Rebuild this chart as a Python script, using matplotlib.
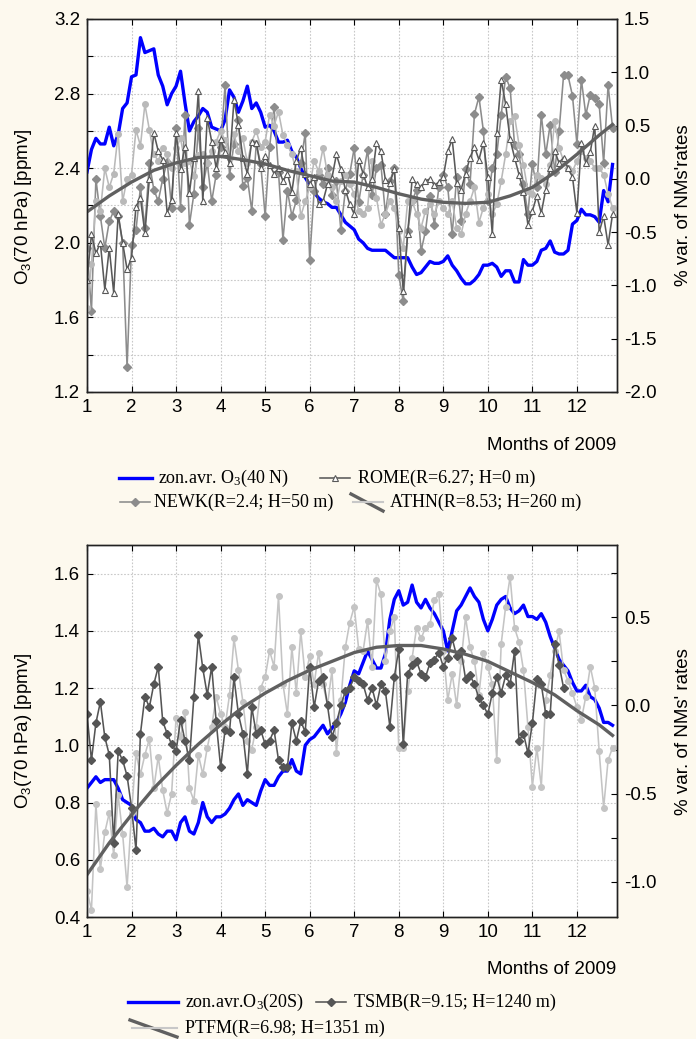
import numpy as np
import matplotlib
matplotlib.use('Agg')
import matplotlib.pyplot as plt
from matplotlib.lines import Line2D
from matplotlib.ticker import MultipleLocator


# ---- data (x = month of 2009, one value every 0.1 month) ----
months = np.round(np.arange(1.0, 12.85, 0.1), 1)          # 1.0 ... 12.8
fit_months = [1.0, 1.5, 2.0, 2.5, 3.0, 3.5, 4.0, 4.5, 5.0, 5.5, 6.0, 6.5,
              7.0, 7.5, 8.0, 8.5, 9.0, 9.5, 10.0, 10.5, 11.0, 11.5, 12.0, 12.5, 12.8]

# top panel: zonal average O3 at 40N (ppmv, left axis)
o3_40n = [2.38, 2.50, 2.56, 2.53, 2.53, 2.62, 2.52, 2.58, 2.72, 2.75,
          2.89, 2.90, 3.10, 3.02, 3.03, 3.04, 2.90, 2.84, 2.74, 2.80,
          2.84, 2.92, 2.75, 2.60, 2.65, 2.68, 2.72, 2.70, 2.62, 2.61,
          2.60, 2.66, 2.82, 2.78, 2.70, 2.76, 2.84, 2.72, 2.75, 2.70,
          2.62, 2.63, 2.60, 2.54, 2.54, 2.55, 2.49, 2.46, 2.40, 2.35,
          2.31, 2.27, 2.24, 2.22, 2.21, 2.19, 2.19, 2.15, 2.11, 2.09,
          2.07, 2.02, 2.00, 1.97, 1.96, 1.96, 1.96, 1.96, 1.94, 1.92,
          1.92, 1.92, 1.92, 1.87, 1.83, 1.84, 1.87, 1.90, 1.89, 1.89,
          1.90, 1.93, 1.88, 1.85, 1.81, 1.78, 1.78, 1.80, 1.83, 1.88,
          1.88, 1.89, 1.87, 1.82, 1.85, 1.85, 1.79, 1.79, 1.91, 1.88,
          1.88, 1.90, 1.96, 1.97, 2.01, 1.95, 1.94, 1.94, 1.96, 2.10,
          2.12, 2.18, 2.15, 2.15, 2.14, 2.11, 2.28, 2.22, 2.42]

# top panel: neutron monitors, % variation (right axis)
rome = [-0.95, -0.52, -0.70, -0.60, -1.04, -0.65, -1.07, -0.33, -0.60, -0.85,
        -0.74, -0.26, -0.18, -0.51, 0.00, 0.43, 0.26, 0.18, -0.32, -0.20,
        0.43, 0.09, 0.30, -0.13, 0.20, 0.82, -0.21, 0.57, 0.35, 0.10,
        0.37, 0.25, 0.15, 0.74, 0.51, 0.20, 0.05, 0.35, 0.34, 0.10,
        0.21, 0.13, 0.05, 0.10, -0.02, 0.05, -0.12, 0.17, 0.29, 0.05,
        -0.05, 0.02, -0.24, -0.21, -0.05, 0.01, 0.23, 0.09, -0.10, -0.24,
        -0.33, 0.18, 0.05, -0.08, 0.00, 0.34, 0.26, -0.01, -0.04, 0.09,
        -0.46, -1.05, -0.52, 0.00, -0.05, -0.08, -0.02, 0.00, -0.06, -0.03,
        0.02, 0.26, 0.37, -0.04, -0.10, 0.05, 0.20, 0.30, 0.18, 0.34,
        0.02, -0.52, 0.43, 0.93, 0.70, 0.37, 0.20, 0.04, -0.12, -0.43,
        -0.30, -0.16, -0.32, -0.10, 0.10, 0.26, 0.15, 0.20, 0.10, 0.02,
        -0.32, 0.34, 0.15, 0.25, 0.50, -0.50, -0.35, -0.62, -0.33]

newk = [-0.65, -1.24, 0.00, -0.35, -0.65, -0.40, -0.30, -0.35, -0.60, -1.77,
        -0.62, -0.48, -0.08, -0.46, 0.15, -0.10, -0.21, 0.00, 0.16, -0.27,
        0.48, -0.27, 0.60, -0.43, -0.14, 0.48, -0.08, 0.15, -0.21, 0.04,
        0.30, 0.88, 0.03, 0.33, 0.55, -0.07, 0.01, -0.30, 0.33, 0.14,
        -0.35, 0.30, 0.67, 0.06, -0.57, -0.11, -0.35, -0.20, 0.15, 0.43,
        -0.76, -0.11, 0.04, -0.05, 0.10, -0.15, -0.02, -0.48, -0.11, 0.05,
        0.29, -0.22, 0.04, 0.27, -0.15, 0.10, 0.13, -0.33, -0.02, 0.10,
        -0.90, -1.15, -0.49, -0.21, -0.10, -0.68, -0.49, -0.16, -0.43, -0.08,
        0.04, -0.08, -0.52, 0.02, -0.40, 0.09, -0.05, 0.61, 0.77, 0.45,
        -0.21, 0.10, 0.23, 0.60, 0.96, 0.85, 0.32, 0.23, -0.05, -0.33,
        0.14, -0.08, 0.60, 0.23, 0.51, 0.06, 0.45, 0.97, 0.97, 0.78,
        0.33, 0.93, 0.60, 0.79, 0.76, 0.70, 0.15, 0.88, 0.48]

athn = [-1.21, -0.80, -0.21, -0.30, 0.10, -0.08, 0.05, 0.42, -0.21, 0.00,
        0.04, 0.46, 0.31, 0.70, 0.46, 0.23, 0.17, 0.29, 0.23, 0.10,
        0.29, 0.38, 0.15, 0.17, 0.03, 0.22, 0.23, 0.15, 0.26, 0.35,
        0.45, 0.36, 0.20, 0.42, 0.26, 0.38, 0.15, 0.35, 0.45, 0.30,
        0.35, 0.60, 0.50, 0.63, 0.41, 0.32, 0.23, 0.07, -0.35, -0.21,
        -0.08, 0.17, 0.07, 0.29, 0.04, -0.08, -0.21, -0.02, 0.04, -0.05,
        -0.14, -0.30, -0.33, -0.27, 0.17, -0.18, -0.43, -0.33, -0.21, -0.27,
        -0.49, -0.65, -0.21, -0.21, -0.33, -0.46, -0.30, -0.24, -0.33, -0.21,
        -0.27, -0.33, -0.21, -0.46, -0.52, -0.33, -0.21, -0.08, -0.41, -0.27,
        -0.14, -0.33, -0.24, -0.02, 0.23, 0.54, 0.59, 0.32, 0.13, -0.11,
        -0.14, 0.04, 0.01, -0.05, 0.13, 0.54, 0.29, 0.17, 0.10, 0.07,
        0.17, 0.26, 0.20, 0.17, 0.10, 0.10, 0.04, -0.14, -0.27]

fit_top = [-0.31, -0.16, -0.03, 0.08, 0.15, 0.20, 0.21, 0.18, 0.14, 0.08, 0.03, -0.02,
           -0.03, -0.08, -0.14, -0.19, -0.22, -0.23, -0.22, -0.16, -0.08, 0.06, 0.23, 0.41, 0.51]

# bottom panel: zonal average O3 at 20S (ppmv, left axis)
o3_20s = [0.85, 0.87, 0.89, 0.87, 0.88, 0.88, 0.88, 0.85, 0.81, 0.80,
          0.79, 0.74, 0.73, 0.70, 0.70, 0.71, 0.69, 0.68, 0.70, 0.70,
          0.67, 0.73, 0.75, 0.70, 0.69, 0.73, 0.80, 0.75, 0.73, 0.75,
          0.75, 0.76, 0.78, 0.81, 0.83, 0.79, 0.81, 0.80, 0.79, 0.84,
          0.88, 0.86, 0.86, 0.89, 0.91, 0.91, 0.95, 0.91, 0.90, 1.00,
          1.02, 1.03, 1.05, 1.07, 1.04, 1.06, 1.08, 1.11, 1.15, 1.21,
          1.26, 1.25, 1.29, 1.33, 1.30, 1.27, 1.27, 1.32, 1.44, 1.51,
          1.54, 1.49, 1.50, 1.56, 1.50, 1.48, 1.51, 1.48, 1.46, 1.43,
          1.40, 1.33, 1.40, 1.47, 1.49, 1.52, 1.55, 1.52, 1.50, 1.44,
          1.40, 1.44, 1.49, 1.51, 1.52, 1.48, 1.46, 1.47, 1.49, 1.45,
          1.45, 1.44, 1.46, 1.43, 1.38, 1.34, 1.30, 1.28, 1.26, 1.22,
          1.19, 1.19, 1.21, 1.17, 1.16, 1.13, 1.08, 1.08, 1.07]

tsmb = [-0.05, -0.31, -0.10, 0.02, -0.18, -0.28, -0.78, -0.26, -0.31, -0.40,
        -0.58, -0.82, -0.16, 0.05, -0.01, 0.12, 0.22, -0.09, -0.16, -0.22,
        -0.26, -0.08, -0.20, -0.31, 0.05, 0.40, 0.21, 0.06, 0.22, -0.09,
        -0.35, -0.14, -0.15, 0.16, -0.05, -0.16, -0.39, -0.01, -0.16, -0.14,
        -0.22, -0.20, -0.14, -0.31, -0.35, -0.35, -0.10, -0.20, -0.09, -0.15,
        0.22, -0.01, 0.14, 0.16, 0.00, -0.18, -0.10, 0.00, 0.08, 0.10,
        0.16, 0.14, 0.12, 0.03, 0.10, 0.00, 0.12, 0.08, -0.12, 0.16,
        0.32, -0.22, 0.18, 0.23, 0.25, 0.18, 0.16, 0.24, 0.26, 0.30,
        0.22, 0.27, 0.38, 0.28, 0.31, 0.15, 0.17, 0.12, 0.04, 0.00,
        -0.05, 0.07, 0.16, 0.07, 0.17, 0.12, 0.31, -0.20, -0.16, -0.27,
        -0.10, 0.15, 0.12, -0.05, -0.05, 0.35, 0.23, 0.10]

ptfm = [-1.05, -1.16, -0.56, -0.93, -0.72, -0.61, -0.85, -0.51, -0.73, -1.03,
        -0.61, -0.27, -0.39, -0.28, -0.19, -0.47, -0.29, -0.48, -0.61, -0.50,
        -0.07, -0.18, -0.04, -0.47, -0.54, -0.28, -0.39, -0.24, -0.12, 0.05,
        -0.05, -0.12, 0.06, 0.38, 0.20, 0.02, -0.20, -0.25, -0.12, 0.10,
        0.16, 0.31, 0.22, 0.62, 0.12, -0.05, 0.33, 0.07, 0.42, 0.16,
        0.28, 0.12, 0.30, 0.12, 0.00, 0.20, -0.27, 0.03, 0.33, 0.47,
        0.56, 0.32, 0.31, 0.48, 0.22, 0.71, 0.63, 0.25, 0.42, 0.50,
        -0.24, -0.24, 0.08, 0.27, 0.44, 0.38, 0.44, 0.46, 0.60, 0.63,
        0.31, 0.03, 0.18, 0.00, 0.25, 0.50, 0.33, 0.25, 0.06, 0.30,
        0.22, 0.12, -0.31, 0.35, 0.56, 0.73, 0.44, 0.36, 0.20, -0.12,
        -0.46, -0.24, -0.46, 0.03, 0.17, 0.31, 0.42, 0.20, 0.14, 0.07,
        -0.01, -0.08, 0.05, 0.22, 0.10, -0.26, -0.58, -0.31, -0.24]

fit_bot = [-0.96, -0.78, -0.62, -0.47, -0.34, -0.22, -0.11, -0.01, 0.07, 0.14, 0.20, 0.25,
           0.30, 0.33, 0.34, 0.34, 0.32, 0.29, 0.25, 0.19, 0.13, 0.06, -0.03, -0.11, -0.17]

month_ticks = list(range(1, 13))

# ---- style ----
BG = '#fdf9ee'
BLUE = '#0000ff'
C_ROME = '#595959'
C_NEWK = '#8c8c8c'
C_ATHN = '#b9b9b9'
C_FIT = '#606060'
C_TSMB = '#555555'
C_PTFM = '#c4c4c4'
NM_LW = 1.15

plt.rcParams['font.family'] = ['Liberation Sans', 'DejaVu Sans']
plt.rcParams['font.size'] = 13.5
SERIF = ['Liberation Serif', 'DejaVu Serif']

W, H = 696, 1039
fig = plt.figure(figsize=(W / 100, H / 100), dpi=100, facecolor=BG)


def fx(px):
    return px / W


def fy(py):
    return 1 - py / H


def setup_axes(ax, ax2, ylim, y2lim, ystep, y2major, y2minor=None):
    ax.set_xlim(1, 12.9)
    ax.set_ylim(*ylim)
    ax2.set_ylim(*y2lim)
    ax.set_xticks(month_ticks)
    ax.yaxis.set_major_locator(MultipleLocator(ystep))
    ax.yaxis.set_major_formatter(matplotlib.ticker.FormatStrFormatter('%.1f'))
    ax2.yaxis.set_major_locator(MultipleLocator(y2major))
    ax2.yaxis.set_major_formatter(matplotlib.ticker.FormatStrFormatter('%.1f'))
    if y2minor:
        ax2.yaxis.set_minor_locator(MultipleLocator(y2minor))
    ax.grid(True, color='#c8c8c8', linestyle=(0, (1.5, 1.5)), linewidth=0.8)
    ax.set_axisbelow(True)
    ax.tick_params(direction='in', length=4, width=0.8, top=True, labelsize=13.5, pad=5)
    ax2.tick_params(which='both', direction='in', length=4, width=0.8, labelsize=13.5, pad=5)
    for a in (ax, ax2):
        for s in a.spines.values():
            s.set_linewidth(1.0)
            s.set_color('#222222')


# ---- top panel ----
ax = fig.add_axes([fx(87), fy(392), fx(617) - fx(87), fy(19) - fy(392)])
ax.set_facecolor('white')
ax2 = ax.twinx()
setup_axes(ax, ax2, (1.2, 3.2), (-2.0, 1.5), 0.4, 0.5)
ax.yaxis.set_minor_locator(MultipleLocator(0.2))
ax.grid(True, which='minor', axis='y', color='#c8c8c8', linestyle=(0, (1.5, 1.5)), linewidth=0.8)
ax.tick_params(which='minor', direction='in', length=4, width=0.8)

ax.plot(months, o3_40n, color=BLUE, lw=2.4, zorder=3)
ax2.plot(months, newk, color=C_NEWK, lw=NM_LW, marker='D', ms=3.6, mfc=C_NEWK, mec=C_NEWK)
ax2.plot(months, athn, color=C_ATHN, lw=NM_LW, marker='o', ms=4.0, mfc=C_ATHN, mec=C_ATHN)
ax2.plot(months, rome, color=C_ROME, lw=NM_LW, marker='^', ms=4.4, mfc='white', mec=C_ROME, mew=0.8)
ax2.plot(fit_months, fit_top, color=C_FIT, lw=2.4)

# ---- bottom panel ----
bx = fig.add_axes([fx(87), fy(917), fx(617) - fx(87), fy(545) - fy(917)])
bx.set_facecolor('white')
bx2 = bx.twinx()
setup_axes(bx, bx2, (0.4, 1.7), (-1.2, 0.91), 0.2, 0.5, 0.25)
bx2.tick_params(which='minor', direction='in', length=4, width=0.8)

bx.plot(months, o3_20s, color=BLUE, lw=2.4, zorder=3)
bx2.plot(months, ptfm, color=C_PTFM, lw=NM_LW, marker='o', ms=4.0, mfc=C_PTFM, mec=C_PTFM)
bx2.plot(months[:len(tsmb)], tsmb, color=C_TSMB, lw=NM_LW, marker='D', ms=3.8, mfc=C_TSMB, mec=C_TSMB)
bx2.plot(fit_months, fit_bot, color=C_FIT, lw=2.4)

# ---- axis titles ----
lab = dict(rotation=90, ha='center', va='center', fontsize=13.5)
fig.text(fx(24), fy(207), r'O$\mathregular{_3}$(70 hPa) [ppmv]', **lab)
fig.text(fx(683), fy(205), "% var. of NMs'rates", **lab)
fig.text(fx(24), fy(731), r'O$\mathregular{_3}$(70 hPa) [ppmv]', **lab)
fig.text(fx(683), fy(732), "% var. of NMs' rates", **lab)
fig.text(fx(616), fy(446), 'Months of 2009', ha='right', va='center', fontsize=13.5)
fig.text(fx(616), fy(970), 'Months of 2009', ha='right', va='center', fontsize=13.5)


# ---- legends (drawn by hand to copy the glyphs) ----
def glyph_line(x0, x1, y, **kw):
    fig.add_artist(Line2D([fx(x0), fx(x1)], [fy(y), fy(y)], transform=fig.transFigure, **kw))


def glyph_marker(x, y, **kw):
    fig.add_artist(Line2D([fx(x)], [fy(y)], transform=fig.transFigure, lw=0, **kw))


def glyph_fit(x0, x1, y):
    fig.add_artist(Line2D([fx(x0), fx(x1)], [fy(y - 8), fy(y + 9)],
                          transform=fig.transFigure, color=C_FIT, lw=2.4))
    glyph_line(x0 + 2, x1, y, color='#c8c8c8', lw=1.5)


def legend_text(x, y, s):
    fig.text(fx(x), fy(y), s, ha='left', va='center', fontsize=13, family=SERIF)


# top legend
glyph_line(119, 152, 478, color=BLUE, lw=2.4)
legend_text(158, 478, r'zon.avr. O$\mathregular{_3}$(40 N)')
glyph_line(320, 350, 478, color=C_ROME, lw=NM_LW)
glyph_marker(335, 478, marker='^', ms=4.4, mfc='white', mec=C_ROME, mew=0.8)
legend_text(358, 478, 'ROME(R=6.27; H=0 m)')
glyph_line(120, 150, 502, color=C_NEWK, lw=NM_LW)
glyph_marker(135, 502, marker='D', ms=3.6, color=C_NEWK)
legend_text(154, 502, 'NEWK(R=2.4; H=50 m)')
glyph_fit(351, 383, 502)
legend_text(390, 502, 'ATHN(R=8.53; H=260 m)')

# bottom legend
glyph_line(128, 178, 1002, color=BLUE, lw=2.4)
legend_text(185, 1002, r'zon.avr.O$\mathregular{_3}$(20S)')
glyph_line(316, 346, 1002, color=C_TSMB, lw=NM_LW)
glyph_marker(331, 1002, marker='D', ms=3.8, color=C_TSMB)
legend_text(354, 1002, 'TSMB(R=9.15; H=1240 m)')
glyph_fit(130, 177, 1028)
legend_text(185, 1028, 'PTFM(R=6.98; H=1351 m)')

fig.savefig('out.png', dpi=100, facecolor=BG)
